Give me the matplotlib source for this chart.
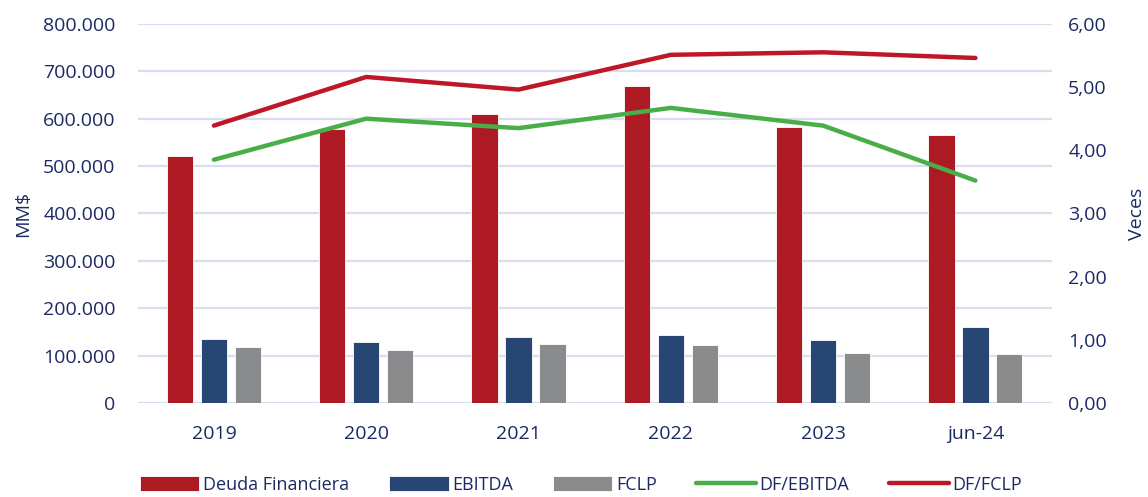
import matplotlib
matplotlib.use("Agg")
import matplotlib.pyplot as plt
import numpy as np
from matplotlib.ticker import FuncFormatter

categories = ["2019", "2020", "2021", "2022", "2023", "jun-24"]
deuda = [521000, 578000, 610000, 669000, 582000, 565000]
ebitda = [135000, 129000, 139000, 143000, 133000, 160000]
fclp = [118000, 112000, 124000, 122000, 105000, 103000]
df_ebitda = [3.85, 4.50, 4.35, 4.67, 4.39, 3.52]
df_fclp = [4.39, 5.16, 4.96, 5.51, 5.55, 5.46]

plt.rcParams['font.family'] = ['Open Sans', 'DejaVu Sans']
txt = '#1B2A63'
grid_c = '#DADDEE'
c_red = '#AD1A24'
c_navy = '#284674'
c_gray = '#8A8B8D'
c_green = '#4AAE48'
c_line_red = '#BE1828'

fig = plt.figure(figsize=(11.48, 4.97), dpi=100)
ax = fig.add_axes([0.120, 0.189, 0.796, 0.763])
ax2 = ax.twinx()

x = np.arange(len(categories))
w = 0.172
off = 0.223
ax.bar(x - off, deuda, w, color=c_red, edgecolor='white', linewidth=0.6, label='Deuda Financiera', zorder=2)
ax.bar(x, ebitda, w, color=c_navy, edgecolor='white', linewidth=0.6, label='EBITDA', zorder=2)
ax.bar(x + off, fclp, w, color=c_gray, edgecolor='white', linewidth=0.6, label='FCLP', zorder=2)

ax2.plot(x, df_ebitda, color=c_green, lw=3.2, solid_capstyle='round', label='DF/EBITDA')
ax2.plot(x, df_fclp, color=c_line_red, lw=3.2, solid_capstyle='round', label='DF/FCLP')

ax.set_xlim(-0.5, len(categories) - 0.5)
ax.set_ylim(0, 800000)
ax.set_yticks(np.arange(0, 800001, 100000))
ax.yaxis.set_major_formatter(FuncFormatter(lambda v, p: f"{int(v):,}".replace(",", ".")))
ax2.set_ylim(0, 6)
ax2.set_yticks(np.arange(0, 6.01, 1))
ax2.yaxis.set_major_formatter(FuncFormatter(lambda v, p: f"{v:.2f}".replace(".", ",")))

ax.set_xticks(x)
ax.set_xticklabels(categories)
ax.grid(axis='y', color=grid_c, lw=1.6, zorder=0)
ax.set_axisbelow(True)
for a in (ax, ax2):
    for s in a.spines.values():
        s.set_visible(False)
    a.tick_params(length=0, labelsize=14, colors=txt)
ax.tick_params(axis='x', pad=16)
ax.tick_params(axis='y', pad=16)
ax2.tick_params(axis='y', pad=12)

ax.set_ylabel('MM$', fontsize=14, color=txt, labelpad=8)
ax2.set_ylabel('Veces', fontsize=14, color=txt, rotation=90, labelpad=15)

h1, l1 = ax.get_legend_handles_labels()
h2, l2 = ax2.get_legend_handles_labels()
fig.legend(h1 + h2, l1 + l2, loc='center', bbox_to_anchor=(0.506, 0.024), ncol=5,
           frameon=False, fontsize=13, labelcolor=txt, handlelength=3.3,
           handleheight=0.9, handletextpad=0.2, columnspacing=2.2)

fig.savefig('out.png', dpi=100)
